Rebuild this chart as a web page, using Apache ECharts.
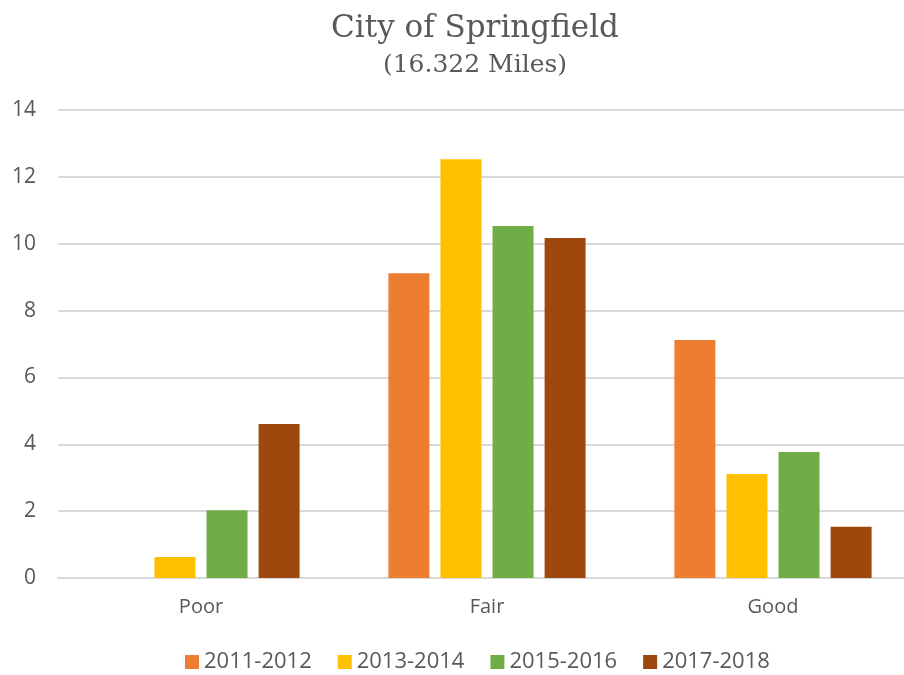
<!DOCTYPE html>
<html>
<head>
<meta charset="utf-8">
<script src="https://cdn.jsdelivr.net/npm/echarts@6/dist/echarts.min.js"></script>
<style>
  html, body { margin: 0; padding: 0; background: #fff; }
  #chart { width: 904px; height: 675px; }
</style>
</head>
<body>
<div id="chart"></div>
<script>
const categories = ['Poor', 'Fair', 'Good']
const seriesNames = ['2011-2012', '2013-2014', '2015-2016', '2017-2018']
const values2011 = [0, 9.12, 7.12]
const values2013 = [0.63, 12.53, 3.11]
const values2015 = [2.03, 10.53, 3.77]
const values2017 = [4.61, 10.17, 1.53]
const yTicks = [0, 2, 4, 6, 8, 10, 12, 14]

const colors = ['#ED7D31', '#FFC000', '#70AD47', '#9E480E']
const allValues = [values2011, values2013, values2015, values2017]
const font = '"Open Sans", "Liberation Sans", sans-serif'

const chart = echarts.init(document.getElementById('chart'))

chart.setOption({
  animation: false,
  title: {
    text: 'City of Springfield',
    subtext: '(16.322 Miles)',
    left: 470,
    textAlign: 'center',
    top: 8,
    itemGap: 9,
    textStyle: { fontFamily: '"DejaVu Serif", serif', fontSize: 31, fontWeight: 'normal', color: '#595959' },
    subtextStyle: { fontFamily: '"DejaVu Serif", serif', fontSize: 25, color: '#595959' },
  },
  legend: {
    data: seriesNames,
    top: 646,
    left: 180,
    itemWidth: 14,
    itemHeight: 14,
    itemGap: 26,
    icon: 'rect',
    textStyle: { fontFamily: font, fontSize: 22, color: '#595959' },
  },
  grid: { left: 58, top: 110, width: 858, height: 468, outerBoundsMode: 'none' },
  xAxis: {
    type: 'category',
    data: categories,
    axisLine: { lineStyle: { color: '#d9d9d9', width: 2 } },
    axisTick: { show: false },
    axisLabel: { fontFamily: font, fontSize: 20, color: '#595959', margin: 19 },
  },
  yAxis: {
    type: 'value',
    min: yTicks[0],
    max: yTicks[yTicks.length - 1],
    interval: 2,
    axisLine: { show: false },
    axisTick: { show: false },
    splitLine: { lineStyle: { color: '#d9d9d9', width: 2 } },
    axisLabel: { fontFamily: font, fontSize: 21, color: '#595959', margin: 22 },
  },
  series: seriesNames.map((name, i) => ({
    name,
    type: 'bar',
    data: allValues[i],
    barWidth: 41,
    barGap: '27%',
    itemStyle: { color: colors[i] },
  })),
})
</script>
</body>
</html>
